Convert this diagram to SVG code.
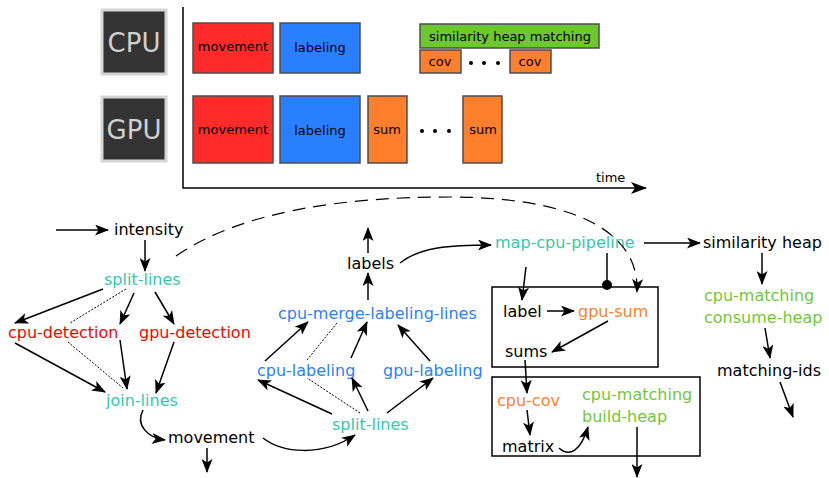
<svg xmlns="http://www.w3.org/2000/svg" width="829" height="478" viewBox="0 0 829 478">
  <defs>
    <marker id="arr" viewBox="0 0 14 11" refX="13" refY="5.5" markerWidth="14" markerHeight="11" markerUnits="userSpaceOnUse" orient="auto">
      <path d="M0,0 L14,5.5 L0,11 L3.5,5.5 z" fill="#000"/>
    </marker>
    <marker id="arrBig" viewBox="0 0 16 12" refX="15" refY="6" markerWidth="16" markerHeight="12" markerUnits="userSpaceOnUse" orient="auto">
      <path d="M0,0 L16,6 L0,12 L4,6 z" fill="#000"/>
    </marker>
    <style>
      text { font-family: "DejaVu Sans", "Liberation Sans", sans-serif; }
      .chip { fill: #333333; stroke: #d5d5d5; stroke-width: 3; }
      .chipText { font-size: 26px; fill: #d0d0d0; text-anchor: middle; }
      .bar { stroke: #4d4d4d; stroke-width: 1.5; }
      .barText { font-size: 13px; fill: #000; text-anchor: middle; }
      .red { fill: #ff2a2a; }
      .blue { fill: #2a7fff; }
      .orange { fill: #ff7f2a; }
      .green { fill: #6dc72f; }
      .dot { fill: #000; }
      .lbl { font-size: 16px; }
      .k { fill: #000; }
      .tTeal { fill: #37c8ab; }
      .tRed { fill: #ff0000; }
      .tBlue { fill: #2a7fff; }
      .tOrange { fill: #ff7f2a; }
      .tGreen { fill: #71c837; }
      .edge { fill: none; stroke: #000; stroke-width: 1.5; marker-end: url(#arr); }
      .thin { fill: none; stroke: #000; stroke-width: 1; stroke-dasharray: 2 1.5; }
      .dash { fill: none; stroke: #000; stroke-width: 1.2; stroke-dasharray: 13 8; marker-end: url(#arr); }
      .frame { fill: none; stroke: #000; stroke-width: 1.5; }
    </style>
  </defs>

  <!-- timeline chart -->
  <g id="timeline">
    <g id="cpu-chip">
      <rect class="chip" x="102" y="10" width="64" height="64"/>
      <text class="chipText" x="134" y="52">CPU</text>
    </g>
    <g id="gpu-chip">
      <rect class="chip" x="102" y="97" width="64" height="64"/>
      <text class="chipText" x="134" y="139">GPU</text>
    </g>
    <path d="M183,7 L183,188 L646,188" fill="none" stroke="#000" stroke-width="1.5" marker-end="url(#arrBig)"/>
    <text x="596" y="182" font-size="13" fill="#000">time</text>

    <g id="cpu-row">
      <rect class="bar red" x="193" y="23" width="80" height="50"/>
      <text class="barText" x="233" y="51">movement</text>
      <rect class="bar blue" x="280" y="23" width="80" height="50"/>
      <text class="barText" x="320" y="52">labeling</text>
      <rect class="bar green" x="420" y="24" width="179" height="24"/>
      <text class="barText" x="510" y="41">similarity heap matching</text>
      <rect class="bar orange" x="420" y="50" width="41" height="23"/>
      <text class="barText" x="440" y="66">cov</text>
      <circle class="dot" cx="471" cy="63" r="2"/>
      <circle class="dot" cx="484" cy="63" r="2"/>
      <circle class="dot" cx="498" cy="63" r="2"/>
      <rect class="bar orange" x="510" y="50" width="41" height="23"/>
      <text class="barText" x="530" y="66">cov</text>
    </g>

    <g id="gpu-row">
      <rect class="bar red" x="193" y="96" width="80" height="67"/>
      <text class="barText" x="233" y="134">movement</text>
      <rect class="bar blue" x="280" y="96" width="80" height="67"/>
      <text class="barText" x="320" y="135">labeling</text>
      <rect class="bar orange" x="368" y="96" width="39" height="67"/>
      <text class="barText" x="387" y="134">sum</text>
      <circle class="dot" cx="422" cy="131" r="2"/>
      <circle class="dot" cx="435" cy="131" r="2"/>
      <circle class="dot" cx="449" cy="131" r="2"/>
      <rect class="bar orange" x="463" y="96" width="39" height="67"/>
      <text class="barText" x="483" y="134">sum</text>
    </g>
  </g>

  <!-- dataflow nodes -->
  <g id="n-intensity"><text class="lbl k" x="114" y="235">intensity</text></g>
  <g id="n-split-lines-1"><text class="lbl tTeal" x="104" y="285">split-lines</text></g>
  <g id="n-cpu-detection"><text class="lbl tRed" x="8" y="338">cpu-detection</text></g>
  <g id="n-gpu-detection"><text class="lbl tRed" x="139" y="338">gpu-detection</text></g>
  <g id="n-join-lines"><text class="lbl tTeal" x="106" y="406">join-lines</text></g>
  <g id="n-movement"><text class="lbl k" x="168" y="443">movement</text></g>

  <g id="n-split-lines-2"><text class="lbl tTeal" x="332" y="430">split-lines</text></g>
  <g id="n-cpu-labeling"><text class="lbl tBlue" x="257" y="376">cpu-labeling</text></g>
  <g id="n-gpu-labeling"><text class="lbl tBlue" x="383" y="376">gpu-labeling</text></g>
  <g id="n-cpu-merge"><text class="lbl tBlue" x="278" y="319">cpu-merge-labeling-lines</text></g>
  <g id="n-labels"><text class="lbl k" x="347" y="269">labels</text></g>

  <g id="n-map-cpu-pipeline"><text class="lbl tTeal" x="495" y="248">map-cpu-pipeline</text></g>
  <g id="n-similarity-heap"><text class="lbl k" x="703" y="248">similarity heap</text></g>
  <g id="n-cpu-matching-consume">
    <text class="lbl tGreen" x="704" y="301">cpu-matching</text>
    <text class="lbl tGreen" x="704" y="323">consume-heap</text>
  </g>
  <g id="n-matching-ids"><text class="lbl k" x="717" y="376">matching-ids</text></g>

  <g id="n-sum-box">
    <rect class="frame" x="492" y="287" width="166" height="80"/>
    <text class="lbl k" x="503" y="317">label</text>
    <text class="lbl tOrange" x="578" y="317">gpu-sum</text>
    <text class="lbl k" x="505" y="357">sums</text>
  </g>
  <g id="n-cov-box">
    <rect class="frame" x="492" y="377" width="208" height="79"/>
    <text class="lbl tOrange" x="497" y="406">cpu-cov</text>
    <text class="lbl k" x="502" y="452">matrix</text>
    <text class="lbl tGreen" x="582" y="400">cpu-matching</text>
    <text class="lbl tGreen" x="582" y="422">build-heap</text>
  </g>

  <!-- connectors -->
  <g id="connectors">
    <path class="edge" d="M56,230 L108,230"/>
    <path class="edge" d="M145,240 L145,271"/>
    <path class="dash" d="M176,256 C240,212 340,197 450,197 C560,197 640,225 637,292"/>

    <path class="edge" d="M103,289 L15,323"/>
    <path class="thin" d="M126,289 L70,323"/>
    <path class="edge" d="M134,293 L120,324"/>
    <path class="edge" d="M155,292 L174,324"/>
    <path class="edge" d="M15,343 L105,392"/>
    <path class="thin" d="M68,342 L123,388"/>
    <path class="edge" d="M120,340 L127,389"/>
    <path class="edge" d="M174,342 L156,393"/>
    <path class="edge" d="M143,410 C135,425 148,438 165,440"/>
    <path class="edge" d="M207,448 L207,472"/>
    <path class="edge" d="M263,438 C282,453 322,457 355,435"/>

    <path class="edge" d="M332,414 L258,380"/>
    <path class="thin" d="M360,413 L307,378"/>
    <path class="edge" d="M368,411 L352,378"/>
    <path class="edge" d="M387,413 L433,378"/>
    <path class="edge" d="M265,361 L308,322"/>
    <path class="thin" d="M307,360 L337,323"/>
    <path class="edge" d="M351,358 L367,322"/>
    <path class="edge" d="M430,361 L398,325"/>
    <path class="edge" d="M368,300 L368,273"/>
    <path class="edge" d="M368,253 L368,228"/>
    <path class="edge" d="M400,263 C420,247 450,245 491,245"/>

    <path class="edge" d="M644,243 L700,243"/>
    <path class="edge" d="M762,253 L762,284"/>
    <path class="edge" d="M765,328 L770,358"/>
    <path class="edge" d="M780,382 L793,417"/>

    <path class="edge" d="M526,267 L522,300"/>
    <path d="M607,253 L607,285" fill="none" stroke="#000" stroke-width="1.5"/>
    <circle cx="607" cy="285" r="5" fill="#000"/>
    <path class="edge" d="M547,311 L574,311"/>
    <path class="edge" d="M608,321 L552,352"/>
    <path class="edge" d="M525,360 L527,393"/>
    <path class="edge" d="M527,410 L530,435"/>
    <path class="edge" d="M559,448 C570,458 581,450 588,427"/>
    <path class="edge" d="M637,427 L637,477"/>
  </g>
</svg>
